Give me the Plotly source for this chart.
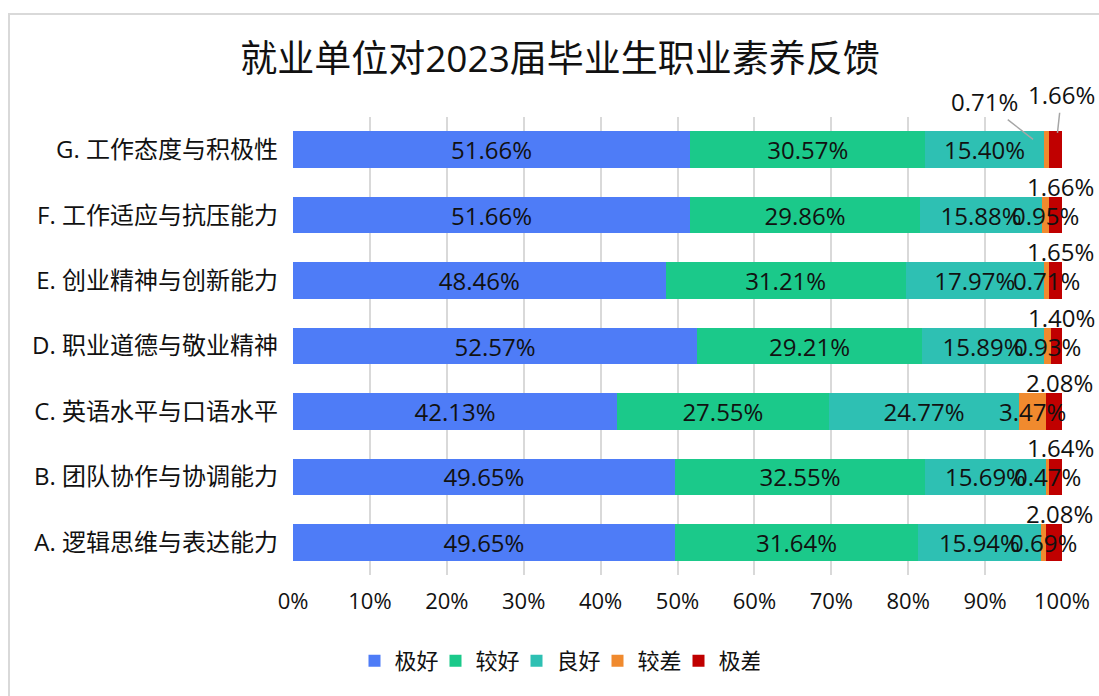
import numpy as np
import plotly.graph_objects as go

title = "就业单位对2023届毕业生职业素养反馈"
categories = ["A. 逻辑思维与表达能力", "B. 团队协作与协调能力", "C. 英语水平与口语水平",
              "D. 职业道德与敬业精神", "E. 创业精神与创新能力", "F. 工作适应与抗压能力",
              "G. 工作态度与积极性"]
series_names = ["极好", "较好", "良好", "较差", "极差"]
excellent = [49.65, 49.65, 42.13, 52.57, 48.46, 51.66, 51.66]
good = [31.64, 32.55, 27.55, 29.21, 31.21, 29.86, 30.57]
fine = [15.94, 15.69, 24.77, 15.89, 17.97, 15.88, 15.40]
poor = [0.69, 0.47, 3.47, 0.93, 0.71, 0.95, 0.71]
very_poor = [2.08, 1.64, 2.08, 1.40, 1.65, 1.66, 1.66]
x_ticks = [0, 10, 20, 30, 40, 50, 60, 70, 80, 90, 100]

colors = ["#4E7CF7", "#1BC98A", "#2EC0B3", "#F08A2E", "#C00000"]
FONT = "Open Sans, Noto Sans CJK SC, sans-serif"
TXT = "#111111"

W, H = 1099, 696
ML, MR, MT, MB = 293, 37, 117, 121
PW, PH = W - ML - MR, H - MT - MB

values = [excellent, good, fine, poor, very_poor]
fig = go.Figure()
for i, (name, vals) in enumerate(zip(series_names, values)):
    show_text = i < 3
    fig.add_trace(go.Bar(
        y=categories, x=vals, name=name, orientation="h",
        marker=dict(color=colors[i], line=dict(width=0)),
        text=[f"{v:.2f}%" for v in vals] if show_text else None,
        textposition="inside" if show_text else "none",
        insidetextanchor="middle",
        constraintext="none",
        textfont=dict(family=FONT, size=24, color=TXT),
        hoverinfo="x+name",
    ))

# labels for small segments
cum = np.cumsum(np.array(values), axis=0)
annotations = []
last = len(categories) - 1
lab_font = dict(family=FONT, size=24, color=TXT)
for j, cat in enumerate(categories):
    o_center = cum[2][j] + poor[j] / 2
    r_center = cum[3][j] + very_poor[j] / 2
    if j == last:
        annotations.append(dict(x=o_center, y=cat, xref="x", yref="y",
                                text=f"{poor[j]:.2f}%", showarrow=True, arrowhead=0,
                                arrowcolor="#A6A6A6", arrowwidth=1.5, ax=-62, ay=-48,
                                standoff=17, font=lab_font))
        annotations.append(dict(x=r_center, y=cat, xref="x", yref="y",
                                text=f"{very_poor[j]:.2f}%", showarrow=True, arrowhead=0,
                                arrowcolor="#A6A6A6", arrowwidth=1.5, ax=6, ay=-55,
                                standoff=17, font=lab_font))
    else:
        annotations.append(dict(x=o_center, y=cat, xref="x", yref="y",
                                text=f"{poor[j]:.2f}%", showarrow=False, font=lab_font))
        annotations.append(dict(x=r_center, y=cat, xref="x", yref="y",
                                text=f"{very_poor[j]:.2f}%", showarrow=False,
                                xshift=5, yshift=29, font=lab_font))

# outer border (chart area frame)
def px_x(p):
    return (p - ML) / PW

def px_y(p):
    return (H - MB - p) / PH

shapes = [dict(type="rect", xref="paper", yref="paper",
               x0=px_x(9), x1=px_x(1110), y0=px_y(710), y1=px_y(14),
               line=dict(color="#D9D9D9", width=2), fillcolor="rgba(0,0,0,0)", layer="below")]

fig.update_layout(
    width=W, height=H,
    margin=dict(l=ML, r=MR, t=MT, b=MB, autoexpand=False),
    barmode="stack",
    bargap=0.44,
    plot_bgcolor="white", paper_bgcolor="white",
    font=dict(family=FONT, size=22, color=TXT),
    title=dict(text=title, x=560 / W, xanchor="center", y=1 - 59 / H, yanchor="middle",
               xref="container", yref="container",
               font=dict(family=FONT, size=37, color=TXT)),
    xaxis=dict(range=[0, 100], tickvals=x_ticks, ticktext=[f"{t}%" for t in x_ticks],
               showgrid=True, gridcolor="#D9D9D9", gridwidth=1.5, zeroline=False,
               showline=False, ticks="", ticklabelstandoff=11,
               tickfont=dict(family=FONT, size=22, color=TXT), fixedrange=True),
    yaxis=dict(range=[-0.5, len(categories) - 0.5], autorange=False,
               showgrid=False, showline=False, ticks="", ticklabelstandoff=14,
               tickfont=dict(family=FONT, size=24, color=TXT), fixedrange=True),
    legend=dict(orientation="h", xref="container", x=557 / W, xanchor="center",
                yref="container", y=1 - 661 / H, yanchor="middle",
                font=dict(family=FONT, size=22, color=TXT),
                entrywidth=36, entrywidthmode="pixels",
                traceorder="normal", itemclick=False),
    annotations=annotations,
    shapes=shapes,
    showlegend=True,
)

fig.write_html("out.html")
